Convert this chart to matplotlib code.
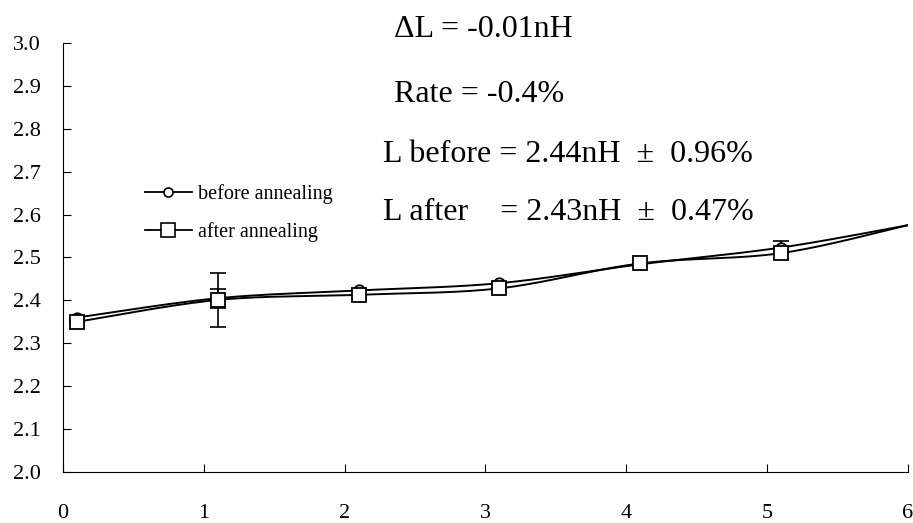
import numpy as np
import matplotlib.pyplot as plt

plt.rcParams['font.family'] = ['Liberation Serif', 'DejaVu Serif']

# data
x = [0.1, 1.1, 2.1, 3.1, 4.1, 5.1, 6.0]
before = [2.360, 2.405, 2.423, 2.440, 2.484, 2.523, 2.575]
after = [2.350, 2.401, 2.413, 2.428, 2.486, 2.510, 2.575]
before_err = [0.0, 0.022, 0.0, 0.0, 0.0, 0.015, 0.0]
after_err = [0.0, 0.062, 0.0, 0.0, 0.0, 0.0, 0.0]
n_mark = 6  # last point has no marker

yticks = [2.0, 2.1, 2.2, 2.3, 2.4, 2.5, 2.6, 2.7, 2.8, 2.9, 3.0]
xticks = [0, 1, 2, 3, 4, 5, 6]

notes = ['\u0394L = -0.01nH', 'Rate = -0.4%',
         'L before = 2.44nH  \u00b1  0.96%', 'L after    = 2.43nH  \u00b1  0.47%']


def smooth(xs, ys, n=30):
    # catmull-rom curve through the points, like a smoothed line in excel
    xs = np.asarray(xs, float)
    ys = np.asarray(ys, float)
    px = np.r_[xs[0], xs, xs[-1]]
    py = np.r_[ys[0], ys, ys[-1]]
    ox, oy = [], []
    t = np.linspace(0, 1, n)
    for i in range(1, len(px) - 2):
        for p, o in ((px, ox), (py, oy)):
            p0, p1, p2, p3 = p[i - 1], p[i], p[i + 1], p[i + 2]
            o.extend(0.5 * (2 * p1 + (-p0 + p2) * t
                            + (2 * p0 - 5 * p1 + 4 * p2 - p3) * t ** 2
                            + (-p0 + 3 * p1 - 3 * p2 + p3) * t ** 3))
    return ox, oy


fig = plt.figure(figsize=(9.13, 5.23), dpi=100)
ax = fig.add_axes([0.069, 0.0975, 0.925, 0.8205])

sx, sy = smooth(x, before)
ax.plot(sx, sy, color='black', lw=1.4)
sx, sy = smooth(x, after)
ax.plot(sx, sy, color='black', lw=1.4)

ax.errorbar(x[:n_mark], before[:n_mark], yerr=before_err[:n_mark], fmt='none',
            ecolor='black', elinewidth=1.2, capsize=6, capthick=1.2)
ax.errorbar(x[:n_mark], after[:n_mark], yerr=after_err[:n_mark], fmt='none',
            ecolor='black', elinewidth=1.2, capsize=6, capthick=1.2)
ax.plot(x[:n_mark], before[:n_mark], 'o', ms=7.5, mfc='white', mec='black', mew=1.3)
ax.plot(x[:n_mark], after[:n_mark], 's', ms=10.5, mfc='white', mec='black', mew=1.3)

# legend
leg_h = [ax.plot([], [], '-o', color='black', lw=1.3, ms=6.5, mfc='white', mew=1.2)[0],
         ax.plot([], [], '-s', color='black', lw=1.3, ms=9.5, mfc='white', mew=1.2)[0]]
ax.legend(leg_h, ['before annealing', 'after annealing'], loc='upper left',
          bbox_to_anchor=(0.076, 0.714), frameon=False, fontsize=14.5,
          handlelength=2.3, handletextpad=0.3, labelspacing=0.9)

ax.set_xlim(0, 6)
ax.set_ylim(2.0, 3.0)
ax.set_xticks(xticks)
ax.set_xticklabels([str(v) for v in xticks], fontfamily='Liberation Serif')
ax.set_yticks(yticks)
ax.set_yticklabels(['%.1f' % v for v in yticks], fontfamily='Liberation Serif')
ax.tick_params(axis='y', direction='in', length=6, labelsize=16, pad=16)
ax.tick_params(axis='x', direction='in', length=6, labelsize=16, pad=23)
ax.spines['top'].set_visible(False)
ax.spines['right'].set_visible(False)

fig.text(0.431, 0.929, notes[0], fontsize=23, va='baseline', ha='left')
fig.text(0.431, 0.805, notes[1], fontsize=23, va='baseline', ha='left')
fig.text(0.419, 0.690, notes[2], fontsize=23, va='baseline', ha='left')
fig.text(0.419, 0.579, notes[3], fontsize=23, va='baseline', ha='left')

fig.savefig('out.png', dpi=100)
